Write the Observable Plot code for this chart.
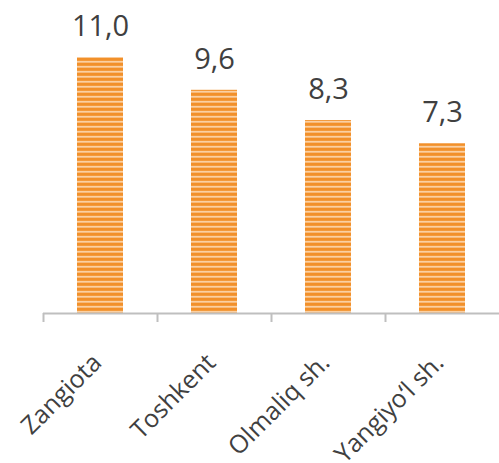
<!DOCTYPE html>
<html>
<head>
<meta charset="utf-8">
<script src="https://cdn.jsdelivr.net/npm/d3@7"></script>
<script src="https://cdn.jsdelivr.net/npm/@observablehq/plot@0.6"></script>
<style>
  html, body { margin: 0; padding: 0; background: #fff; overflow: hidden; }
  #chart { width: 499px; height: 463px; }
  #chart svg { max-width: none !important; }
</style>
</head>
<body>
<div id="chart"></div>
<script>
const categories = ["Zangiota", "Toshkent", "Olmaliq sh.", "Yangiyo\u2018l sh."];
const values = [11.0, 9.6, 8.3, 7.3];
const valueLabels = ["11,0", "9,6", "8,3", "7,3"];

const data = categories.map((c, i) => ({category: c, value: values[i], label: valueLabels[i]}));

const width = 499, height = 463;
const marginLeft = 43, marginRight = 0;
const step = (width - marginLeft - marginRight) / categories.length;

const plot = Plot.plot({
  width, height,
  marginLeft, marginRight,
  marginTop: 34, marginBottom: 150,
  style: {fontFamily: "Open Sans", color: "#404040", background: "#fff", overflow: "visible"},
  x: {domain: categories, paddingInner: 0.6, paddingOuter: 0.3, axis: null},
  y: {domain: [0, 12], axis: null},
  marks: [
    Plot.barY(data, {x: "category", y: "value", fill: "url(#stripes)"}),
    Plot.ruleY([0], {stroke: "#BFBFBF", strokeWidth: 2}),
    Plot.tickX(data, {x: "category", y1: 0, dx: -step / 2, stroke: "#BFBFBF", strokeWidth: 2, render: (I, scales, values, dims, ctx, next) => {
      const g = next(I, scales, values, dims, ctx);
      d3.select(g).selectAll("line").each(function() {
        const y = scales.y(0);
        this.setAttribute("y1", y);
        this.setAttribute("y2", y + 9);
      });
      return g;
    }}),
    Plot.text(data, {x: "category", y: "value", text: "label", dy: -31, fontSize: 29, fill: "#404040"}),
    Plot.text(data, {x: "category", y: 0, text: "category", rotate: -45, textAnchor: "end", dx: -3, dy: 45, fontSize: 25, fill: "#404040"})
  ]
});

const svg = d3.select(plot);
const defs = svg.insert("defs", ":first-child");
const pat = defs.append("pattern")
  .attr("id", "stripes")
  .attr("patternUnits", "userSpaceOnUse")
  .attr("width", 8).attr("height", 5);
pat.append("rect").attr("width", 8).attr("height", 5).attr("fill", "#F39A3C");
pat.append("rect").attr("y", 1).attr("width", 8).attr("height", 1.6).attr("fill", "#FBD0A2");
pat.append("rect").attr("y", 3.4).attr("width", 8).attr("height", 1.2).attr("fill", "#F28A1E");

document.getElementById("chart").appendChild(plot);
</script>
</body>
</html>
